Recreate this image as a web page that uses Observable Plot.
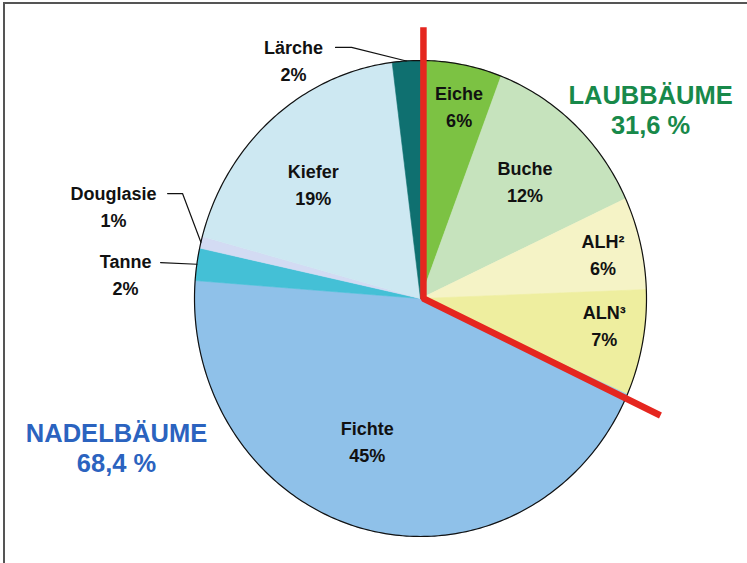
<!DOCTYPE html>
<html>
<head>
<meta charset="utf-8">
<script src="https://cdn.jsdelivr.net/npm/d3@7"></script>
<script src="https://cdn.jsdelivr.net/npm/@observablehq/plot@0.6"></script>
<style>
  html, body { margin: 0; padding: 0; background: #fff; }
  #wrap { position: relative; width: 747px; height: 563px; overflow: hidden; }
  #frame { position: absolute; left: 3px; top: 2px; right: -4px; bottom: -4px;
           border-top: 2px solid #555; border-left: 2px solid #555; pointer-events: none; }
</style>
</head>
<body>
<div id="wrap"><div id="frame"></div></div>
<script>
// ---- data (shares in %, as drawn; labels show rounded values) ----
const species = ["Eiche", "Buche", "ALH²", "ALN³", "Fichte", "Tanne", "Douglasie", "Kiefer", "Lärche"];
const shares  = [5.8, 12.3, 6.3, 7.2, 44.6, 2.2, 0.8, 18.8, 2.0];
const colors  = ["#7cc243", "#c6e3bd", "#f5f3c6", "#eeee9f", "#8fc1e9", "#44c0d6", "#d3dbf3", "#cde8f2", "#0f7070"];
const groups      = ["LAUBBÄUME", "NADELBÄUME"];
const groupShares = [31.6, 68.4];
const groupColors = ["#18894a", "#2b63bf"];

// ---- layout (label placement: [position in % around the pie, radius]) ----
const insideLabel = {"Eiche": [3.3, 0.83], "Buche": [11.9, 0.68], "ALH²": [21.3, 0.83],
                     "ALN³": [27.1, 0.82], "Fichte": [56, 0.64], "Kiefer": [87.7, 0.68]};
// callouts: text position and leader start/elbow in pie units
const callout = {
  "Lärche":    {text: [-0.562, 1.006], start: [-0.376, 1.055], elbow: [-0.305, 1.055]},
  "Douglasie": {text: [-1.358, 0.393], start: [-1.119, 0.441], elbow: [-1.053, 0.441]},
  "Tanne":     {text: [-1.305, 0.109], start: [-1.150, 0.151], elbow: [-1.150, 0.151]}
};
const groupLabelPos = [[1.018, 0.796], [-1.345, -0.626]];

const TAU = 2 * Math.PI;
const total = d3.sum(shares);
const pt = (pct, r) => ({u: r * Math.sin(pct / 100 * TAU), v: r * Math.cos(pct / 100 * TAU)});

// slices
let cum = 0;
const slices = species.map((name, i) => {
  const p0 = cum / total * 100, p1 = (cum + shares[i]) / total * 100;
  cum += shares[i];
  const pts = [{u: 0, v: 0}];
  const n = Math.max(4, Math.ceil((p1 - p0) * 4));
  for (let k = 0; k <= n; k++) pts.push(pt(p0 + (p1 - p0) * k / n, 1));
  pts.push({u: 0, v: 0});
  return {name, share: shares[i], color: colors[i], p0, p1, mid: (p0 + p1) / 2, pts};
});

const outline = d3.range(0, 100.01, 0.25).map(p => pt(p, 1));

const laubPct = groupShares[0];
const divider = [{u: 0.013, v: 1.14}, {u: 0.013, v: 0}, pt(laubPct + 0.3, 1.17)];

const fmt = s => `${Math.round(s)}%`;
const inside = slices.filter(s => insideLabel[s.name]).map(s => {
  const [p, r] = insideLabel[s.name];
  return {...pt(p, r), label: `${s.name}\n${fmt(s.share)}`};
});

const outside = slices.filter(s => callout[s.name]).map(s => {
  const c = callout[s.name];
  const edge = pt(s.mid, 1);
  return {label: `${s.name}\n${fmt(s.share)}`, tu: c.text[0], tv: c.text[1],
          leader: [{u: c.start[0], v: c.start[1]}, {u: c.elbow[0], v: c.elbow[1]}, edge]};
});

const groupData = groups.map((g, i) => ({
  label: `${g}\n${String(groupShares[i]).replace(".", ",")} %`,
  color: groupColors[i], u: groupLabelPos[i][0], v: groupLabelPos[i][1]
}));

const font = "'Liberation Sans', Arial, Helvetica, sans-serif";

const chart = Plot.plot({
  width: 747,
  height: 563,
  margin: 0,
  x: {domain: [-420 / 226, 327 / 226], axis: null},
  y: {domain: [-265 / 238, 298 / 238], axis: null},
  style: {background: "transparent", fontFamily: font},
  marks: [
    ...slices.map(s => Plot.line(s.pts, {x: "u", y: "v", fill: s.color, stroke: s.color, strokeWidth: 0.6, curve: "linear"})),
    Plot.line(outline, {x: "u", y: "v", stroke: "#111", strokeWidth: 1.2}),
    ...outside.map(o => Plot.line(o.leader, {x: "u", y: "v", stroke: "#111", strokeWidth: 1.2})),
    Plot.line(divider, {x: "u", y: "v", stroke: "#e5261f", strokeWidth: 6.5, strokeLinejoin: "miter", strokeLinecap: "butt"}),
    Plot.text(inside, {x: "u", y: "v", text: "label", fontSize: 18, fontWeight: "bold", lineHeight: 1.5, fill: "#111", fontFamily: font}),
    Plot.text(outside, {x: "tu", y: "tv", text: "label", fontSize: 18, fontWeight: "bold", lineHeight: 1.5, fill: "#111", fontFamily: font}),
    Plot.text(groupData, {x: "u", y: "v", text: "label", fill: "color", fontSize: 25.5, fontWeight: "bold", lineHeight: 1.18, fontFamily: font})
  ]
});
document.getElementById("wrap").prepend(chart);
</script>
</body>
</html>
